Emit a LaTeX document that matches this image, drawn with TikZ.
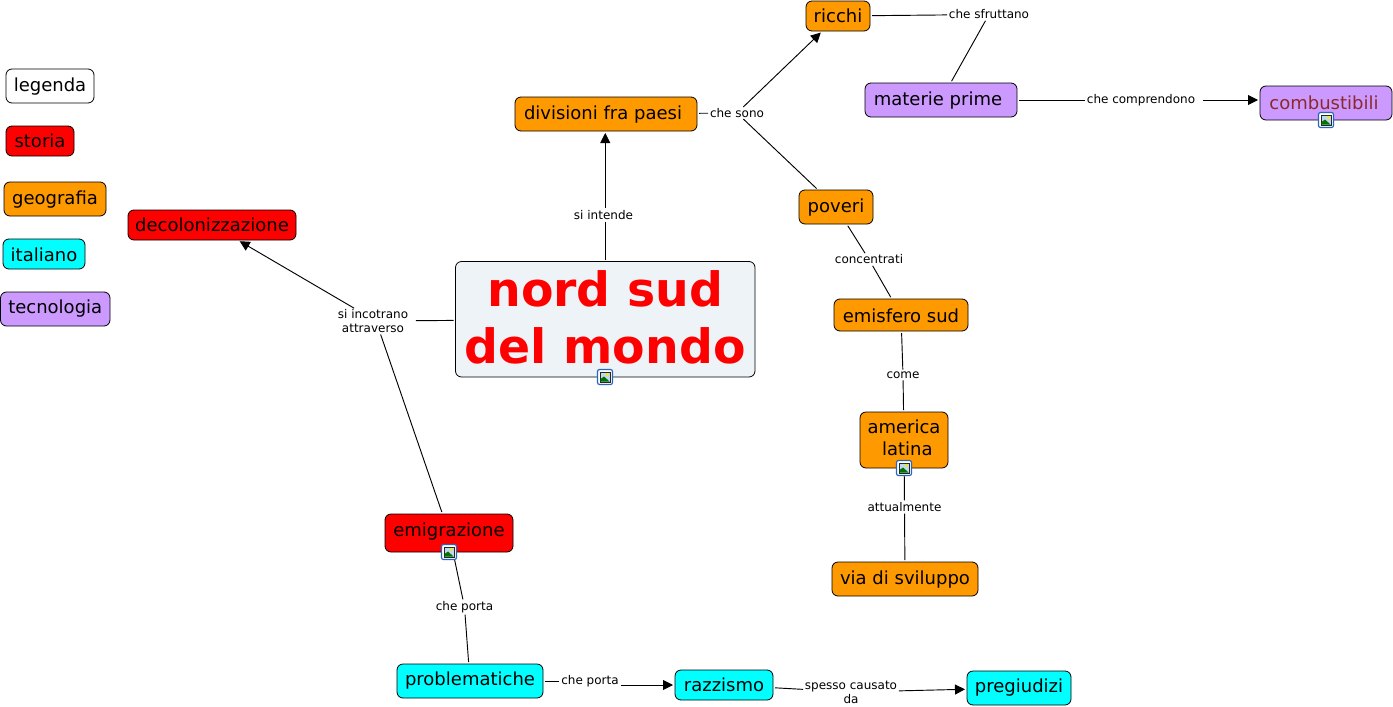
\documentclass[tikz,border=0pt]{standalone}
\usepackage{fontspec}
\setmainfont{DejaVu Sans}
\usetikzlibrary{arrows.meta,calc}
\definecolor{cgeo}{HTML}{FF9900}
\definecolor{cita}{HTML}{00FFFF}
\definecolor{ctec}{HTML}{CC99FF}
\definecolor{cmain}{HTML}{EDF3F6}
\definecolor{cbrown}{HTML}{8B2A2A}
\definecolor{cframe}{HTML}{2A66B8}
\definecolor{csky}{HTML}{BFD8F0}
\tikzset{
  x=0.75pt,y=-0.75pt,
  concept/.style={draw=black,line width=0.6pt,rounded corners=4.5pt,inner sep=0pt,align=center,
    font=\fontsize{13.5pt}{16.5pt}\selectfont},
  leg/.style={concept,fill=white},
  hist/.style={concept,fill=red},
  geo/.style={concept,fill=cgeo},
  ita/.style={concept,fill=cita},
  tec/.style={concept,fill=ctec},
  title/.style={concept,fill=cmain,text=red,font=\fontsize{35.5pt}{42.75pt}\selectfont\bfseries},
  linklab/.style={inner sep=0pt,align=center,font=\fontsize{9pt}{10.6pt}\selectfont},
  link/.style={draw=black,line width=0.7pt,shorten <=1.2pt,shorten >=1.2pt},
  arrowlink/.style={link,-{Triangle[length=7.5pt,width=7.5pt]}},
  pics/imgicon/.style={code={
    \draw[cframe,line width=0.9pt,fill=white,rounded corners=1.5pt] (-7.5,-7.5) rectangle (7.5,7.5);
    \fill[black!85] (-5.5,-5.5) rectangle (5.5,5.5);
    \fill[csky] (-4.5,-4.5) rectangle (4.5,4.5);
    \fill[yellow!90!orange] (2.5,-2.5) circle (1.6);
    \fill[green!45!black] (-4.5,4.5) -- (-4.5,2) -- (-1,-0.5) -- (4.5,4.5) -- cycle;
  }},
}
\newcommand{\boxnode}[7]{% style,name,x1,y1,x2,y2,text
  \node[#1,minimum width={(#5-#3)*0.75pt},minimum height={(#6-#4)*0.75pt}] (#2) at ({(#3+#5)/2},{(#4+#6)/2}) {#7};}
\newcommand{\dn}[1]{\raisebox{-0.75pt}[\height][\depth]{#1}}
\newcommand{\up}[1]{\raisebox{1.4pt}[\height][\depth]{#1}}
\begin{document}
\begin{tikzpicture}
\useasboundingbox (0,0) rectangle (1393,707);
\boxnode{leg}{legenda}{6}{69}{94}{103}{\dn{legenda}}
\boxnode{hist}{storia}{6}{126}{74}{156}{storia}
\boxnode{geo}{geografia}{4}{182}{106}{216}{\dn{geografia}}
\boxnode{ita}{italiano}{3}{239}{85}{269}{\dn{italiano}}
\boxnode{tec}{tecnologia}{0.5}{292}{110}{326}{tecnologia}
\boxnode{hist}{decol}{128}{210}{296}{240}{decolonizzazione}
\boxnode{title}{main}{455.5}{261.5}{755}{377}{\up{nord sud}\\\up{del mondo}}
\boxnode{geo}{divisioni}{515}{97}{697}{131}{\dn{divisioni fra paesi}\hspace*{4.5pt}}
\boxnode{geo}{ricchi}{806}{1}{870}{31}{ricchi}
\boxnode{tec}{materie}{865}{83}{1017}{117}{\dn{materie prime}\hspace*{4.5pt}}
\boxnode{tec}{combust}{1260}{86}{1392}{120}{\color{cbrown}combustibili\hspace*{3pt}}
\boxnode{geo}{poveri}{799}{190}{873}{224}{\dn{poveri}}
\boxnode{geo}{emisfero}{834}{299}{968}{331}{\dn{emisfero sud}}
\boxnode{geo}{america}{860}{412}{948}{468}{\up{america}\\\hspace*{5pt}\up{latina}}
\boxnode{geo}{via}{832}{562}{978}{596}{\dn{via di sviluppo}}
\boxnode{hist}{emigr}{385}{514}{513}{552}{\up{emigrazione}}
\boxnode{ita}{problem}{397}{664}{543}{698}{problematiche}
\boxnode{ita}{razzismo}{675}{670}{773}{700}{razzismo}
\boxnode{ita}{pregiud}{967}{671}{1071}{705}{pregiudizi}
% link labels
\node[linklab] (lintende) at (603.5,215) {si intende};
\node[linklab] (lincontr) at (376,321) {si incotrano\hspace*{4.5pt}\\attraverso\hspace*{4.5pt}};
\node[linklab] (lsono) at (737,113) {che sono};
\node[linklab] (lsfrut) at (989,14.5) {che sfruttano};
\node[linklab] (lcompr) at (1141,100) {che comprendono};
\node[linklab] (lconc) at (869,259.5) {concentrati};
\node[linklab] (lcome) at (903,375) {come};
\node[linklab] (lattu) at (904.5,507) {attualmente};
\node[linklab] (lporta) at (464.5,607) {che porta};
\node[linklab] (lporta2) at (590,681) {che porta};
\node[linklab] (lcaus) at (851,692) {spesso causato\\da};
% connectors
\draw[link] (main.north) -- (main.north |- lintende.south);
\draw[arrowlink] (main.north |- lintende.north) -- (main.north |- divisioni.south);
\draw[link] (main) -- (lincontr);
\draw[arrowlink] (lincontr) -- (decol);
\draw[link] (emigr) -- (lincontr);
\draw[link] (divisioni) -- (lsono);
\draw[arrowlink] (lsono) -- (ricchi);
\draw[link] (lsono) -- (poveri);
\draw[link] (ricchi) -- (lsfrut);
\draw[link] (materie) -- (lcompr);
\draw[link] (materie) -- (lsfrut);
\draw[arrowlink,shorten <=6pt] (lcompr.east) -- (lcompr.east -| combust.west);
\draw[link] (poveri) -- (lconc);
\draw[link] (lconc) -- (emisfero);
\draw[link] (emisfero) -- (lcome);
\draw[link] (lcome) -- (america);
\draw[link] (america) -- (lattu);
\draw[link] (lattu) -- (via);
\draw[link] (emigr) -- (lporta);
\draw[link] (lporta) -- (problem);
\draw[link] (problem) -- (lporta2);
\draw[arrowlink] (lporta2.east |- razzismo.west) -- (razzismo.west);
\draw[link] (razzismo) -- (lcaus);
\draw[arrowlink] (lcaus) -- (pregiud);
% image icons
\pic at (605,377) {imgicon};
\pic at (1326,120) {imgicon};
\pic at (904,468) {imgicon};
\pic at (449,552) {imgicon};
\end{tikzpicture}
\end{document}
